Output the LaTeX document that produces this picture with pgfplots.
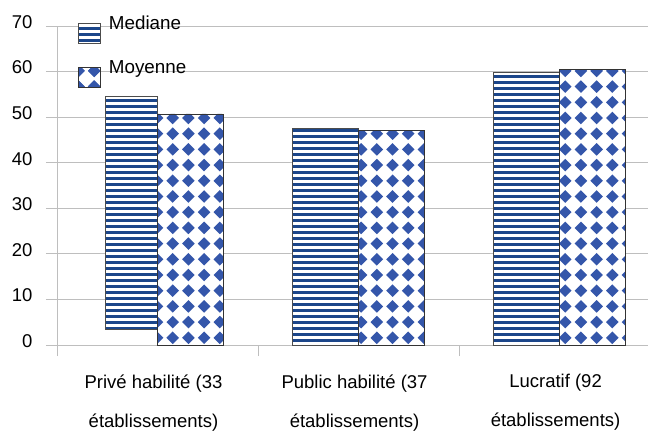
\documentclass[border=0pt]{standalone}
\usepackage{fontspec}
\setmainfont{Liberation Sans}
\usepackage{pgfplots}
\pgfplotsset{compat=1.18}
\usetikzlibrary{patterns.meta}
\definecolor{stripeblue}{RGB}{28,70,138}
\definecolor{diamblue}{RGB}{52,86,170}
\definecolor{gridgray}{RGB}{190,190,190}
\tikzdeclarepattern{
  name=hstripes, type=uncolored,
  bottom left={(-2bp,0bp)}, top right={(8bp,6bp)}, tile size={(6bp,6bp)},
  code={\fill (-2bp,0bp) rectangle (8bp,3.2bp);}
}
\tikzdeclarepattern{
  name=diamonds, type=uncolored,
  bottom left={(-7.85bp,-7.85bp)}, top right={(7.85bp,7.85bp)}, tile size={(15.7bp,15.7bp)},
  code={\fill (0bp,-6.3bp) -- (6.3bp,0bp) -- (0bp,6.3bp) -- (-6.3bp,0bp) -- cycle;}
}
\tikzset{
  medstyle/.style={fill=white, postaction={pattern=hstripes, pattern color=stripeblue}, draw=black!70, line width=0.8bp},
  moystyle/.style={fill=white, postaction={pattern=diamonds, pattern color=diamblue}, draw=black!80, line width=0.8bp},
}
\begin{document}
\begin{tikzpicture}
\path[use as bounding box] (-57bp,-87bp) rectangle (591bp,345bp);
\begin{axis}[
  at={(0bp,0bp)}, anchor=south west,
  scale only axis, width=591bp, height=319bp,
  xmin=-0.5, xmax=2.44, ymin=0, ymax=70,
  axis x line*=bottom, axis y line*=left,
  axis line style={gridgray, line width=0.8bp, -},
  ymajorgrids, grid style={gridgray, line width=0.8bp},
  ytick={0,10,...,70},
  tick style={gridgray, line width=0.8bp},
  tick align=outside, major tick length=11bp,
  xtick={-0.5,0.5,1.5}, xticklabels={},
  extra x ticks={0,1,2},
  extra x tick labels={Privé habilité (33\\établissements),Public habilité (37\\établissements),Lucratif (92\\établissements)},
  extra x tick style={major tick length=0pt, xticklabel style={align=center, font=\fontsize{18.5bp}{39bp}\selectfont, xshift=-4bp, yshift=-26bp}},
  yticklabel style={font=\fontsize{18.5bp}{20bp}\selectfont, yshift=4bp, xshift=-10bp},
  /pgf/number format/assume math mode=true,
  legend style={at={(0.0355,1.0376)}, anchor=north west, draw=none, fill=none, inner sep=0pt, row sep=14bp, column sep=6bp, font=\fontsize{18.8bp}{20bp}\selectfont},
  legend cell align=left,
]
\addplot[medstyle, forget plot] coordinates {(-0.261,3.5) (-0.261,54.5) (0,54.5) (0,3.5)} -- cycle;
\addplot[ybar, bar width=66bp, bar shift=-33bp, medstyle,
  legend image code/.code={\draw[medstyle] (0bp,-20bp) rectangle (22bp,0bp);}]
  coordinates {(1,47.5) (2,59.9)};
\addplot[ybar, bar width=66bp, bar shift=33bp, moystyle,
  legend image code/.code={\draw[moystyle] (0bp,-20bp) rectangle (22bp,0bp);}]
  coordinates {(0,50.7) (1,47.1) (2,60.5)};
\legend{Mediane,Moyenne}
\end{axis}
\end{tikzpicture}
\end{document}
